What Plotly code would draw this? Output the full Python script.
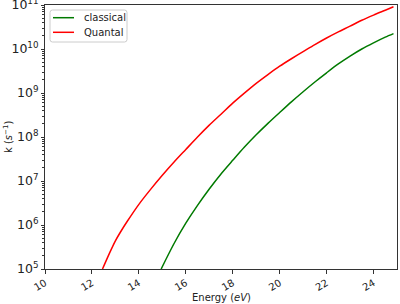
import plotly.graph_objects as go

energy_quantal = [12.45, 12.75, 13.0, 13.25, 13.5, 14.0, 14.5, 15.0, 15.5, 16.0, 16.5, 17.0, 17.5, 18.0, 18.5,
                  19.0, 19.5, 20.0, 20.5, 21.0, 21.5, 22.0, 22.5, 23.0, 23.5, 24.0, 24.5, 24.85]
k_quantal = [1.0e5, 2.3e5, 4.37e5, 7.4e5, 1.2e6, 2.95e6, 6.45e6, 1.35e7, 2.7e7, 5.2e7, 1.0e8, 1.86e8, 3.3e8, 5.9e8, 1.0e9,
             1.66e9, 2.63e9, 4.07e9, 6.0e9, 8.7e9, 1.26e10, 1.78e10, 2.45e10, 3.3e10, 4.5e10, 5.9e10, 7.6e10, 9.1e10]

energy_classical = [14.95, 15.5, 16.0, 16.5, 17.0, 17.5, 18.0, 18.5, 19.0, 19.5, 20.0, 20.5, 21.0,
                    21.5, 22.0, 22.5, 23.0, 23.5, 24.0, 24.5, 24.85]
k_classical = [1.0e5, 3.8e5, 1.1e6, 2.8e6, 6.6e6, 1.45e7, 2.95e7, 5.9e7, 1.12e8, 2.04e8, 3.6e8, 6.3e8, 1.07e9,
               1.78e9, 2.88e9, 4.57e9, 6.9e9, 1.0e10, 1.38e10, 1.86e10, 2.24e10]

series_names = ["classical", "Quantal"]
series_colors = ["#007a00", "#ff0000"]

x_ticks = [10, 12, 14, 16, 18, 20, 22, 24]
x_title = "Energy (<i>eV</i>)"
y_title = "k (<i>s</i><sup>−1</sup>)"

TXT = "#222222"
AX = "#333333"
fnt = dict(family="DejaVu Sans", size=10, color=TXT)

W, H = 400, 304
ML, MR, MT, MB = 45, 3, 5, 35
PW, PH = W - ML - MR, H - MT - MB


def px(xp):
    return (xp - ML) / PW


def py(yp):
    return (H - MB - yp) / PH


fig = go.Figure()
fig.add_trace(go.Scatter(x=energy_classical, y=k_classical, mode="lines", name=series_names[0],
                         line=dict(color=series_colors[0], width=1.5, shape="spline", smoothing=0.8)))
fig.add_trace(go.Scatter(x=energy_quantal, y=k_quantal, mode="lines", name=series_names[1],
                         line=dict(color=series_colors[1], width=1.5, shape="spline", smoothing=0.8)))
# invisible trace to carry the minor-tick axis
fig.add_trace(go.Scatter(x=[], y=[], yaxis="y2", showlegend=False, hoverinfo="skip"))

# legend drawn as a matplotlib-style box
shapes = []
x0, x1, y0, y1, r = 50, 127, 10, 42, 2.5
path = (f"M {px(x0 + r)},{py(y0)} L {px(x1 - r)},{py(y0)} Q {px(x1)},{py(y0)} {px(x1)},{py(y0 + r)} "
        f"L {px(x1)},{py(y1 - r)} Q {px(x1)},{py(y1)} {px(x1 - r)},{py(y1)} "
        f"L {px(x0 + r)},{py(y1)} Q {px(x0)},{py(y1)} {px(x0)},{py(y1 - r)} "
        f"L {px(x0)},{py(y0 + r)} Q {px(x0)},{py(y0)} {px(x0 + r)},{py(y0)} Z")
shapes.append(dict(type="path", path=path, xref="paper", yref="paper",
                   line=dict(color="#cccccc", width=1), fillcolor="rgba(255,255,255,0.8)", layer="above"))
annotations = []
for i, (nm, col) in enumerate(zip(series_names, series_colors)):
    yy = 17.7 + i * 14.6
    shapes.append(dict(type="line", xref="paper", yref="paper", x0=px(53), x1=px(74), y0=py(yy), y1=py(yy),
                       line=dict(color=col, width=1.5), layer="above"))
    annotations.append(dict(text=nm, xref="paper", yref="paper", x=px(82), y=py(yy),
                            xanchor="left", yanchor="middle", showarrow=False, font=fnt))

annotations += [
    dict(text=x_title, xref="paper", yref="paper", x=px(221), y=py(297),
         xanchor="center", yanchor="middle", showarrow=False, font=fnt),
    dict(text=y_title, xref="paper", yref="paper", x=px(8), y=0.5, textangle=-90,
         xanchor="center", yanchor="middle", showarrow=False, font=fnt),
]

minor_vals = [m * 10 ** e for e in range(5, 11) for m in range(2, 10)]

fig.update_layout(
    width=W, height=H,
    margin=dict(l=ML, r=MR, t=MT, b=MB, autoexpand=False),
    paper_bgcolor="white", plot_bgcolor="white",
    font=fnt,
    showlegend=False,
    shapes=shapes,
    annotations=annotations,
    yaxis2=dict(type="log", range=[4.99999, 11.00001], overlaying="y", side="left",
                tickvals=minor_vals, showticklabels=False, ticks="outside", ticklen=2,
                tickwidth=0.8, tickcolor=AX, showgrid=False, zeroline=False, showline=False,
                automargin=False),
)
fig.update_xaxes(
    range=[10, 25], tickvals=x_ticks, tickangle=-30, automargin=False,
    ticks="outside", ticklen=3.5, tickwidth=1, tickcolor=AX, ticklabeloverflow="allow",
    showline=True, linecolor=AX, linewidth=1, mirror=True,
    showgrid=False, zeroline=False, tickfont=fnt,
)
fig.update_layout(yaxis=dict(
    type="log", range=[4.99999, 11.00001], dtick=1, exponentformat="power", automargin=False,
    ticks="outside", ticklen=3.5, tickwidth=1, tickcolor=AX, ticklabeloverflow="allow",
    showline=True, linecolor=AX, linewidth=1, mirror=True,
    showgrid=False, zeroline=False, tickfont=fnt,
))

fig.write_html("out.html", config={"displayModeBar": False},
               post_script="document.body.style.margin='0';")
